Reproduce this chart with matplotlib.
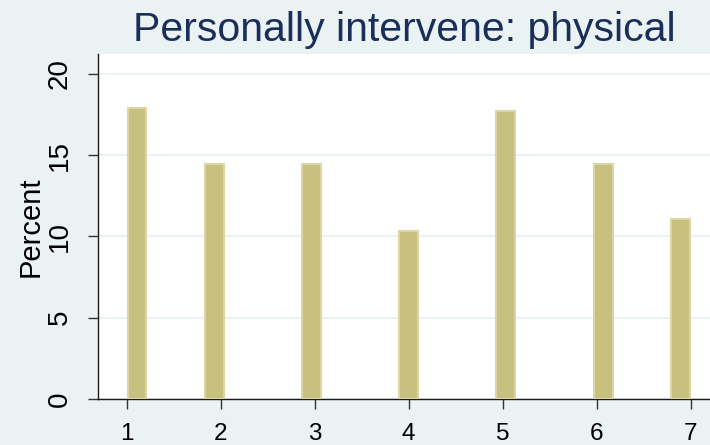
import numpy as np
import matplotlib
matplotlib.use('Agg')
from matplotlib import pyplot as plt

# values
bar_x = [1.11, 1.93, 2.97, 4.00, 5.03, 6.07, 6.89]
percent = [17.9, 14.46, 14.46, 10.34, 17.74, 14.46, 11.08]
x_ticks = [1, 2, 3, 4, 5, 6, 7]
y_ticks = [0, 5, 10, 15, 20]
title = 'Personally intervene: physical'

bg = '#eaf2f3'
plt.rcParams['font.family'] = ['Liberation Sans', 'DejaVu Sans']

fig = plt.figure(figsize=(7.1, 4.45), dpi=100, facecolor=bg)
ax = fig.add_axes([98 / 710, 1 - 399 / 445, 1 - 98 / 710, (399 - 54) / 445])
ax.set_facecolor('white')

ax.bar(bar_x, percent, width=0.2, color='#c8c07e', edgecolor='#dbd6a3',
       linewidth=1.5, zorder=3)

ax.set_xlim(0.695, 7.205)
ax.set_ylim(0, 21.23)
ax.set_xticks(x_ticks)
ax.set_yticks(y_ticks)
ax.yaxis.grid(True, color=bg, linewidth=1.5, zorder=0)
ax.set_axisbelow(True)

for s in ['top', 'right']:
    ax.spines[s].set_visible(False)
for s in ['left', 'bottom']:
    ax.spines[s].set_color('#1a1a1a')
    ax.spines[s].set_linewidth(1.0)

ax.tick_params(axis='both', direction='out', length=7, width=1, color='#333333',
               labelcolor='black')
ax.tick_params(axis='x', labelsize=17.5, pad=10)
ax.tick_params(axis='y', labelsize=20, pad=11)
for lab in ax.get_yticklabels():
    lab.set_rotation(90)
    lab.set_va('center')

ax.set_ylabel('Percent', fontsize=21, labelpad=2)
fig.text(0.570, 1 - 41 / 445, title, ha='center', va='baseline', fontsize=29.5,
         color='#1a2e5a')

fig.savefig('out.png', dpi=100, facecolor=bg)
